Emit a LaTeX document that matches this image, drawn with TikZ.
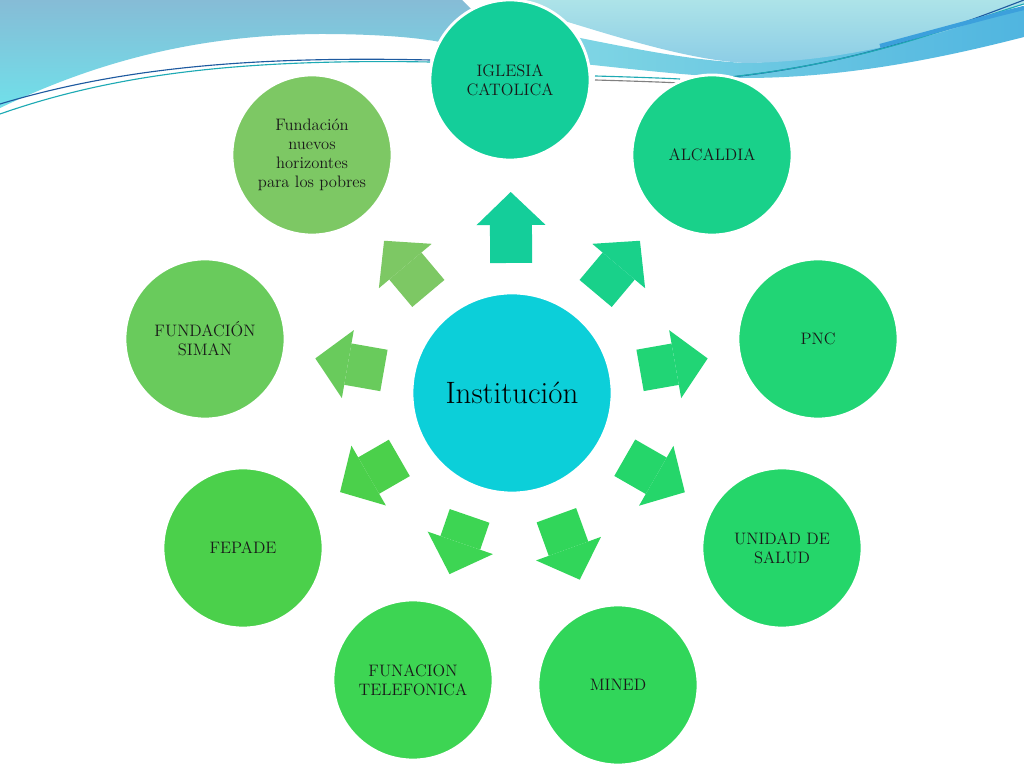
\documentclass[tikz,border=0pt]{standalone}
\usetikzlibrary{arrows.meta}

\definecolor{cInst}{HTML}{0CCFD9}
\definecolor{cIgl}{HTML}{14CE9A}
\definecolor{cAlc}{HTML}{19D18A}
\definecolor{cPnc}{HTML}{21D575}
\definecolor{cSal}{HTML}{25D66A}
\definecolor{cMin}{HTML}{31D65A}
\definecolor{cTel}{HTML}{3DD553}
\definecolor{cFep}{HTML}{4BD04B}
\definecolor{cSim}{HTML}{69CB5C}
\definecolor{cFnh}{HTML}{7DC864}

\begin{document}
\begin{tikzpicture}[x=0.025cm,y=0.025cm]
	\tikzset{Inst/.style={circle, fill=cInst, draw=white, line width=2pt, outer sep=0pt,
			minimum size=5cm, font=\fontsize{22}{26}\selectfont},
		Entidad/.style={circle, draw=white, line width=2pt, outer sep=0pt, text=black!90,
			minimum size=4cm, align=center, font=\fontsize{11.8}{13.5}\selectfont},
		Flecha/.style={line width=1.05cm, shorten <=0.75cm, shorten >=0.8cm,
			-{Triangle[width=1.725cm,length=0.825cm,line width=0pt]}}}
	\useasboundingbox (0,0) rectangle (1024,768);
	\fill[white] (0,0) rectangle (1024,768);

	\shade[top color={rgb,255:red,134;green,188;blue,214}, bottom color={rgb,255:red,112;green,224;blue,234}]
		(0,768) -- (462,768) -- (472,758) -- (440,726) .. controls (420,730) and (380,734) .. (320,734)
		.. controls (200,733) and (100,708) .. (0,660) -- cycle;
	\draw[color={rgb,255:red,30;green,90;blue,160}, line width=0.8pt] (0,664) .. controls (120,700) and (250,712) .. (430,708);
	\draw[color={rgb,255:red,30;green,170;blue,180}, line width=0.8pt] (0,654) .. controls (120,696) and (250,709) .. (430,706);
	\shade[left color={rgb,255:red,128;green,214;blue,228}, right color={rgb,255:red,80;green,181;blue,224}]
		(565,733) .. controls (640,718) and (690,708) .. (745,705) .. controls (850,708) and (950,740) .. (1024,762)
		-- (1024,731) .. controls (950,712) and (850,690) .. (745,690) .. controls (690,692) and (640,698) .. (565,706) -- cycle;
	\shade[top color={rgb,255:red,173;green,227;blue,232}, bottom color={rgb,255:red,140;green,205;blue,230}]
		(525,768) -- (1024,768) -- (1024,764) .. controls (950,735) and (850,706) .. (745,705)
		.. controls (690,708) and (620,730) .. (555,750) -- cycle;
	\draw[color={rgb,255:red,30;green,170;blue,180}, line width=0.8pt] (595,692) .. controls (630,691) and (660,690) .. (680,689);
	\draw[color=gray, line width=0.8pt] (595,688) .. controls (630,687) and (660,686) .. (680,685);
	\draw[color={rgb,255:red,30;green,90;blue,160}, line width=0.8pt] (700,688) .. controls (850,700) and (950,740) .. (1024,768);
	\draw[color={rgb,255:red,30;green,170;blue,180}, line width=0.8pt] (720,690) .. controls (870,705) and (960,745) .. (1024,764);
	\draw[color={rgb,255:red,60;green,160;blue,220}, line width=3pt] (880,722) .. controls (940,738) and (990,752) .. (1024,760);

	\node[Inst] (inst) at (512,375) {Institución};
	\node[Entidad, fill=cIgl] (igl) at (510,688) {IGLESIA\\CATOLICA};
	\node[Entidad, fill=cAlc] (alc) at (712,613) {ALCALDIA};
	\node[Entidad, fill=cPnc] (pnc) at (818,429) {PNC};
	\node[Entidad, fill=cSal] (sal) at (782,220) {UNIDAD DE\\SALUD};
	\node[Entidad, fill=cMin] (min) at (618,83) {MINED};
	\node[Entidad, fill=cTel] (tel) at (413,88) {FUNACION\\TELEFONICA};
	\node[Entidad, fill=cFep] (fep) at (243,220) {FEPADE};
	\node[Entidad, fill=cSim] (sim) at (205,429) {FUNDACIÓN\\SIMAN};
	\node[Entidad, fill=cFnh] (fnh) at (312,613) {Fundación\\nuevos\\horizontes\\para los pobres};

	\foreach \n/\c in {igl/cIgl, alc/cAlc, pnc/cPnc, sal/cSal, min/cMin, tel/cTel, fep/cFep, sim/cSim, fnh/cFnh}
		\draw[Flecha, draw=\c] (inst) -- (\n);
\end{tikzpicture}
\end{document}
